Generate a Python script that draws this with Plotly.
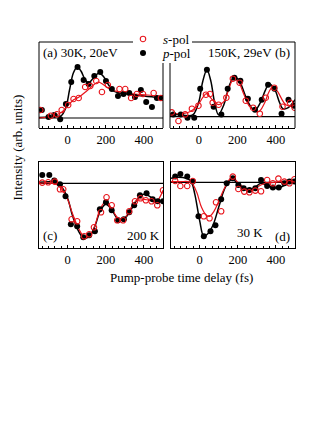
import plotly.graph_objects as go

# ---------------- data ----------------
# Panel (a) 30K, 20eV
a_p_t = [-135, -100, -70, -39, -9, 19, 52, 84, 110, 140, 171, 201, 232, 264, 293, 323, 353, 384, 412, 442, 468, 494]
a_p_v = [8, 1, 3, -1.3, 14, 36, 51, 38, 34, 42, 46, 37, 29, 22, 24, 25, 21, 28, 16, 11, 20, 20]
a_s_t = [-143, -88, -56, -31, 3, 31, 58, 92, 119, 150, 180, 211, 272, 302, 333, 363, 395, 451, 489]
a_s_v = [8, 2.3, 3.7, 8, 13, 19, 20, 31, 32, 37, 26, 33, 29, 29, 20, 24, 24, 25, 20]
a_pfit_t = [-150, -100, -60, -35, -10, 10, 30, 50, 70, 90, 110, 135, 165, 190, 215, 240, 270, 320, 400, 500]
a_pfit_v = [0.5, 1, 2, 2, 10, 28, 45, 51, 47, 39, 35, 40, 45, 41, 33, 27, 25, 24, 22, 20]
a_sfit_t = [-150, -100, -60, -30, 0, 30, 60, 100, 130, 160, 190, 230, 280, 350, 420, 500]
a_sfit_v = [0, 1, 3, 6, 12, 18, 21, 27, 32, 36, 33, 28, 26, 24, 23, 21]

# Panel (b) 150K, 29eV
b_p_t = [-133, -94, -59, -24, 7, 42, 77, 117, 150, 185, 216, 255, 292, 327, 360, 393, 430, 466, 495]
b_p_v = [2.3, 2.3, -1, -1, 28, 47, 10, 2.3, 28, 39, 36, 18, 7, 17, 32, 28, 3, 17, 11]
b_s_t = [-141, -106, -71, -36, -2, 37, 58, 72, 103, 143, 177, 212, 244, 282, 317, 348, 392, 435, 474, 498]
b_s_v = [4.3, -4.3, 2.3, 8, 11, 22, 22.7, 14, 12, 19, 38, 34, 16, 9, 3, 19, 29, 10, 14, 9]
b_pfit_t = [-150, -100, -60, -30, 0, 20, 42, 62, 82, 102, 130, 160, 185, 210, 240, 270, 292, 320, 345, 366, 395, 420, 437, 465, 500]
b_pfit_v = [2, 2, 1, 2, 15, 35, 47, 36, 14, 2, 12, 32, 40, 36, 22, 10, 6.5, 14, 26, 33, 27, 14, 8, 9, 17]
b_sfit_t = [-150, -100, -60, -30, 0, 20, 40, 70, 103, 130, 155, 180, 205, 235, 265, 310, 340, 365, 385, 410, 452, 500]
b_sfit_v = [3.3, 3, 4, 7, 13, 19, 23, 17, 12, 15, 27, 38, 35, 22, 10, 5, 13, 25, 30, 25, 12, 10]

# Panel (c) 200 K
c_p_t = [-133, -96, -70, -40, -11, 17, 50, 82, 113, 143, 169, 201, 231, 265, 295, 323, 349, 379, 414, 446, 472, 500]
c_p_v = [8.3, 8.3, 2.7, -1, -13, -41, -43, -54, -52, -48, -26, -19, -27, -37, -36, -29, -22, -12, -10, -16, -18, -18]
c_s_t = [-133, -102, -67, -40, -23, 21, 50, 87, 113, 138, 175, 204, 231, 260, 291, 323, 353, 382, 410, 440, 470, 500]
c_s_v = [0.7, 1, 1.7, -6, -6, -36, -38, -53, -51, -44, -29, -14, -22, -37, -37, -28, -18, -15, -17, -18, -22, -7]
c_pfit_t = [-150, -100, -60, -30, 0, 25, 50, 75, 95, 120, 145, 170, 200, 230, 260, 285, 310, 340, 370, 400, 430, 460, 500]
c_pfit_v = [1, 1.5, 1, -4, -15, -32, -45, -53, -55, -52, -42, -28, -21, -26, -35, -37, -33, -24, -15, -11, -13, -17, -18]
c_sfit_t = [-150, -100, -60, -30, 0, 25, 50, 75, 95, 120, 145, 170, 200, 230, 260, 285, 310, 340, 370, 400, 430, 460, 480, 500]
c_sfit_v = [0, 0.5, -1, -6, -16, -30, -42, -51, -54, -51, -41, -26, -18, -25, -34, -37, -32, -22, -16, -16, -17, -19, -15, -7]

# Panel (d) 30 K
d_p_t = [-128, -101, -65, -36, -6, 22, 57, 83, 113, 142, 174, 203, 231, 261, 292, 322, 354, 384, 415, 444, 471, 497]
d_p_v = [5.7, 8.3, 5.7, 0.7, -34, -54, -49, -43, -17, -1, 4, -2.7, -6, -7.7, -6, 2.3, -3.7, -5.3, -5.3, -1, 0.7, 0.7]
d_s_t = [-128, -101, -65, -36, 22, 52, 86, 113, 174, 203, 234, 261, 292, 322, 354, 384, 413, 444, 471, 497]
d_s_v = [1.3, -3.7, -3.7, 1.3, -34, -36, -20, -29, 5.7, -6.7, -9.3, -10, -8.3, -9, 2.3, -1, 3.7, 0.7, -1, 3]
d_pfit_t = [-150, -110, -70, -45, -25, 0, 22, 45, 70, 100, 130, 155, 172, 200, 230, 261, 290, 322, 350, 385, 415, 445, 470, 500]
d_pfit_v = [4, 5, 4, 1, -12, -38, -54, -51, -43, -25, -7, 1, 3, -1, -5, -7.7, -5, -1, -3, -5.5, -5.5, -3, -0.5, 2]
d_sfit_t = [-150, -100, -60, -40, -15, 10, 35, 52, 75, 100, 125, 150, 170, 200, 230, 261, 290, 330, 370, 410, 450, 500]
d_sfit_v = [0.7, 0.7, 0.7, -1, -10, -25, -33, -34, -29, -19, -8, 1, 5.5, 0, -5, -7, -6, -2, -0.5, 0.5, 1, 2.3]

x_ticks = [0, 200, 400]
x_range = [-150, 500]
y_ranges = [[-10, 76], [-11.3, 74.7], [-64.7, 21.3], [-65.7, 20.3]]

# ---------------- figure ----------------
W, H = 327, 427
OFF = 8  # page body margin offset
RED = "#e8141b"
FONT = "Liberation Serif, Times New Roman, serif"

panels = [
    (a_p_t, a_p_v, a_s_t, a_s_v, a_pfit_t, a_pfit_v, a_sfit_t, a_sfit_v),
    (b_p_t, b_p_v, b_s_t, b_s_v, b_pfit_t, b_pfit_v, b_sfit_t, b_sfit_v),
    (c_p_t, c_p_v, c_s_t, c_s_v, c_pfit_t, c_pfit_v, c_sfit_t, c_sfit_v),
    (d_p_t, d_p_v, d_s_t, d_s_v, d_pfit_t, d_pfit_v, d_sfit_t, d_sfit_v),
]

# screen pixel boxes (left, right, top, bottom)
boxes = [(39, 163, 42, 128), (170, 295, 42, 128), (39, 163, 162, 248), (171, 295, 162, 248)]

def fx(px):
    return (px - OFF) / W

def fy(py):
    return 1 - (py - OFF) / H

fig = go.Figure()
for i, (pt, pv, st, sv, pft, pfv, sft, sfv) in enumerate(panels):
    xa = "x" if i == 0 else f"x{i+1}"
    ya = "y" if i == 0 else f"y{i+1}"
    fig.add_trace(go.Scatter(x=pft, y=pfv, mode="lines", line=dict(color="black", width=1.5, shape="spline"),
                             xaxis=xa, yaxis=ya, showlegend=False, hoverinfo="skip"))
    fig.add_trace(go.Scatter(x=sft, y=sfv, mode="lines", line=dict(color=RED, width=1.2, shape="spline"),
                             xaxis=xa, yaxis=ya, showlegend=False, hoverinfo="skip"))
    fig.add_trace(go.Scatter(x=pt, y=pv, mode="markers", marker=dict(color="black", size=6),
                             xaxis=xa, yaxis=ya, name="<i>p</i>-pol", showlegend=(i == 0), legend="legend2"))
    fig.add_trace(go.Scatter(x=st, y=sv, mode="markers",
                             marker=dict(color="rgba(255,255,255,0)", size=5.5, line=dict(color=RED, width=1.1)),
                             xaxis=xa, yaxis=ya, name="<i>s</i>-pol", showlegend=(i == 0), legend="legend"))

leg_common = dict(xanchor="left", yanchor="middle", bgcolor="rgba(0,0,0,0)",
                  font=dict(family=FONT, size=13, color="black"), itemwidth=30, borderwidth=0)
layout = dict(
    width=W, height=H, margin=dict(l=0, r=0, t=0, b=0),
    paper_bgcolor="white", plot_bgcolor="white",
    font=dict(family=FONT, size=12.5, color="black"),
    showlegend=True,
    legend=dict(x=fx(123), y=fy(39), **leg_common),
    legend2=dict(x=fx(123), y=fy(53), **leg_common),
)
for i, (l, r, t, b) in enumerate(boxes):
    sx = "" if i == 0 else str(i + 1)
    top_row = i < 2
    layout[f"xaxis{sx}"] = dict(
        domain=[fx(l), fx(r)], range=x_range, anchor=f"y{sx}",
        showline=True, linecolor="black", linewidth=1, mirror=(not top_row),
        ticks="inside", ticklen=3, tickcolor="black", tickvals=x_ticks,
        ticktext=[str(v) for v in x_ticks],
        minor=dict(ticks="inside", ticklen=2, dtick=100 / 3, tick0=0, tickcolor="black"),
        showgrid=False, zeroline=False, tickfont=dict(size=12.5),
    )
    layout[f"yaxis{sx}"] = dict(
        domain=[fy(b), fy(t)], range=y_ranges[i], anchor=f"x{sx}",
        showline=(not top_row), linecolor="black", linewidth=1, mirror=True,
        showticklabels=False, ticks="", showgrid=False, zeroline=False,
    )
fig.update_layout(**layout)

# baselines at zero
for i in range(4):
    sx = "" if i == 0 else str(i + 1)
    fig.add_shape(type="line", xref=f"x{sx} domain", yref=f"y{sx}", x0=0, x1=1, y0=0, y1=0,
                  line=dict(color="black", width=1.2), layer="below")

# frames of the top panels, interrupted where the legend sits
frame = dict(color="black", width=1)
gap_y = (128 - 63) / 86          # frame resumes below legend
gap_xa = (133 - 39) / 124        # top of (a) ends before legend
gap_xb = (192 - 170) / 125       # top of (b) starts after legend
frame_segs = [
    ("", 0, 0, 0, 1), ("", 0, 1, gap_xa, 1), ("", 1, 0, 1, gap_y),
    ("2", 0, 0, 0, gap_y), ("2", gap_xb, 1, 1, 1), ("2", 1, 0, 1, 1),
]
for sx, x0, y0, x1, y1 in frame_segs:
    fig.add_shape(type="line", xref=f"x{sx} domain", yref=f"y{sx} domain",
                  x0=x0, y0=y0, x1=x1, y1=y1, line=frame, layer="above")

def ann(text, px, py, xanchor="left", size=13, angle=0):
    fig.add_annotation(text=text, x=fx(px), y=fy(py), xref="paper", yref="paper",
                       xanchor=xanchor, yanchor="middle", showarrow=False, textangle=angle,
                       font=dict(family=FONT, size=size, color="black"))

ann("(a) 30K, 20eV", 41, 52)
ann("150K, 29eV", 206, 52)
ann("(b)", 292, 52, xanchor="right")
ann("(c)", 41, 235)
ann("200 K", 162, 235, xanchor="right")
ann("30 K", 235, 232)
ann("(d)", 292, 236, xanchor="right")
ann("Intensity (arb. units)", 17.5, 148, xanchor="center", angle=-90)
ann("Pump-probe time delay (fs)", 181, 277, xanchor="center")

fig.write_html("out.html")
